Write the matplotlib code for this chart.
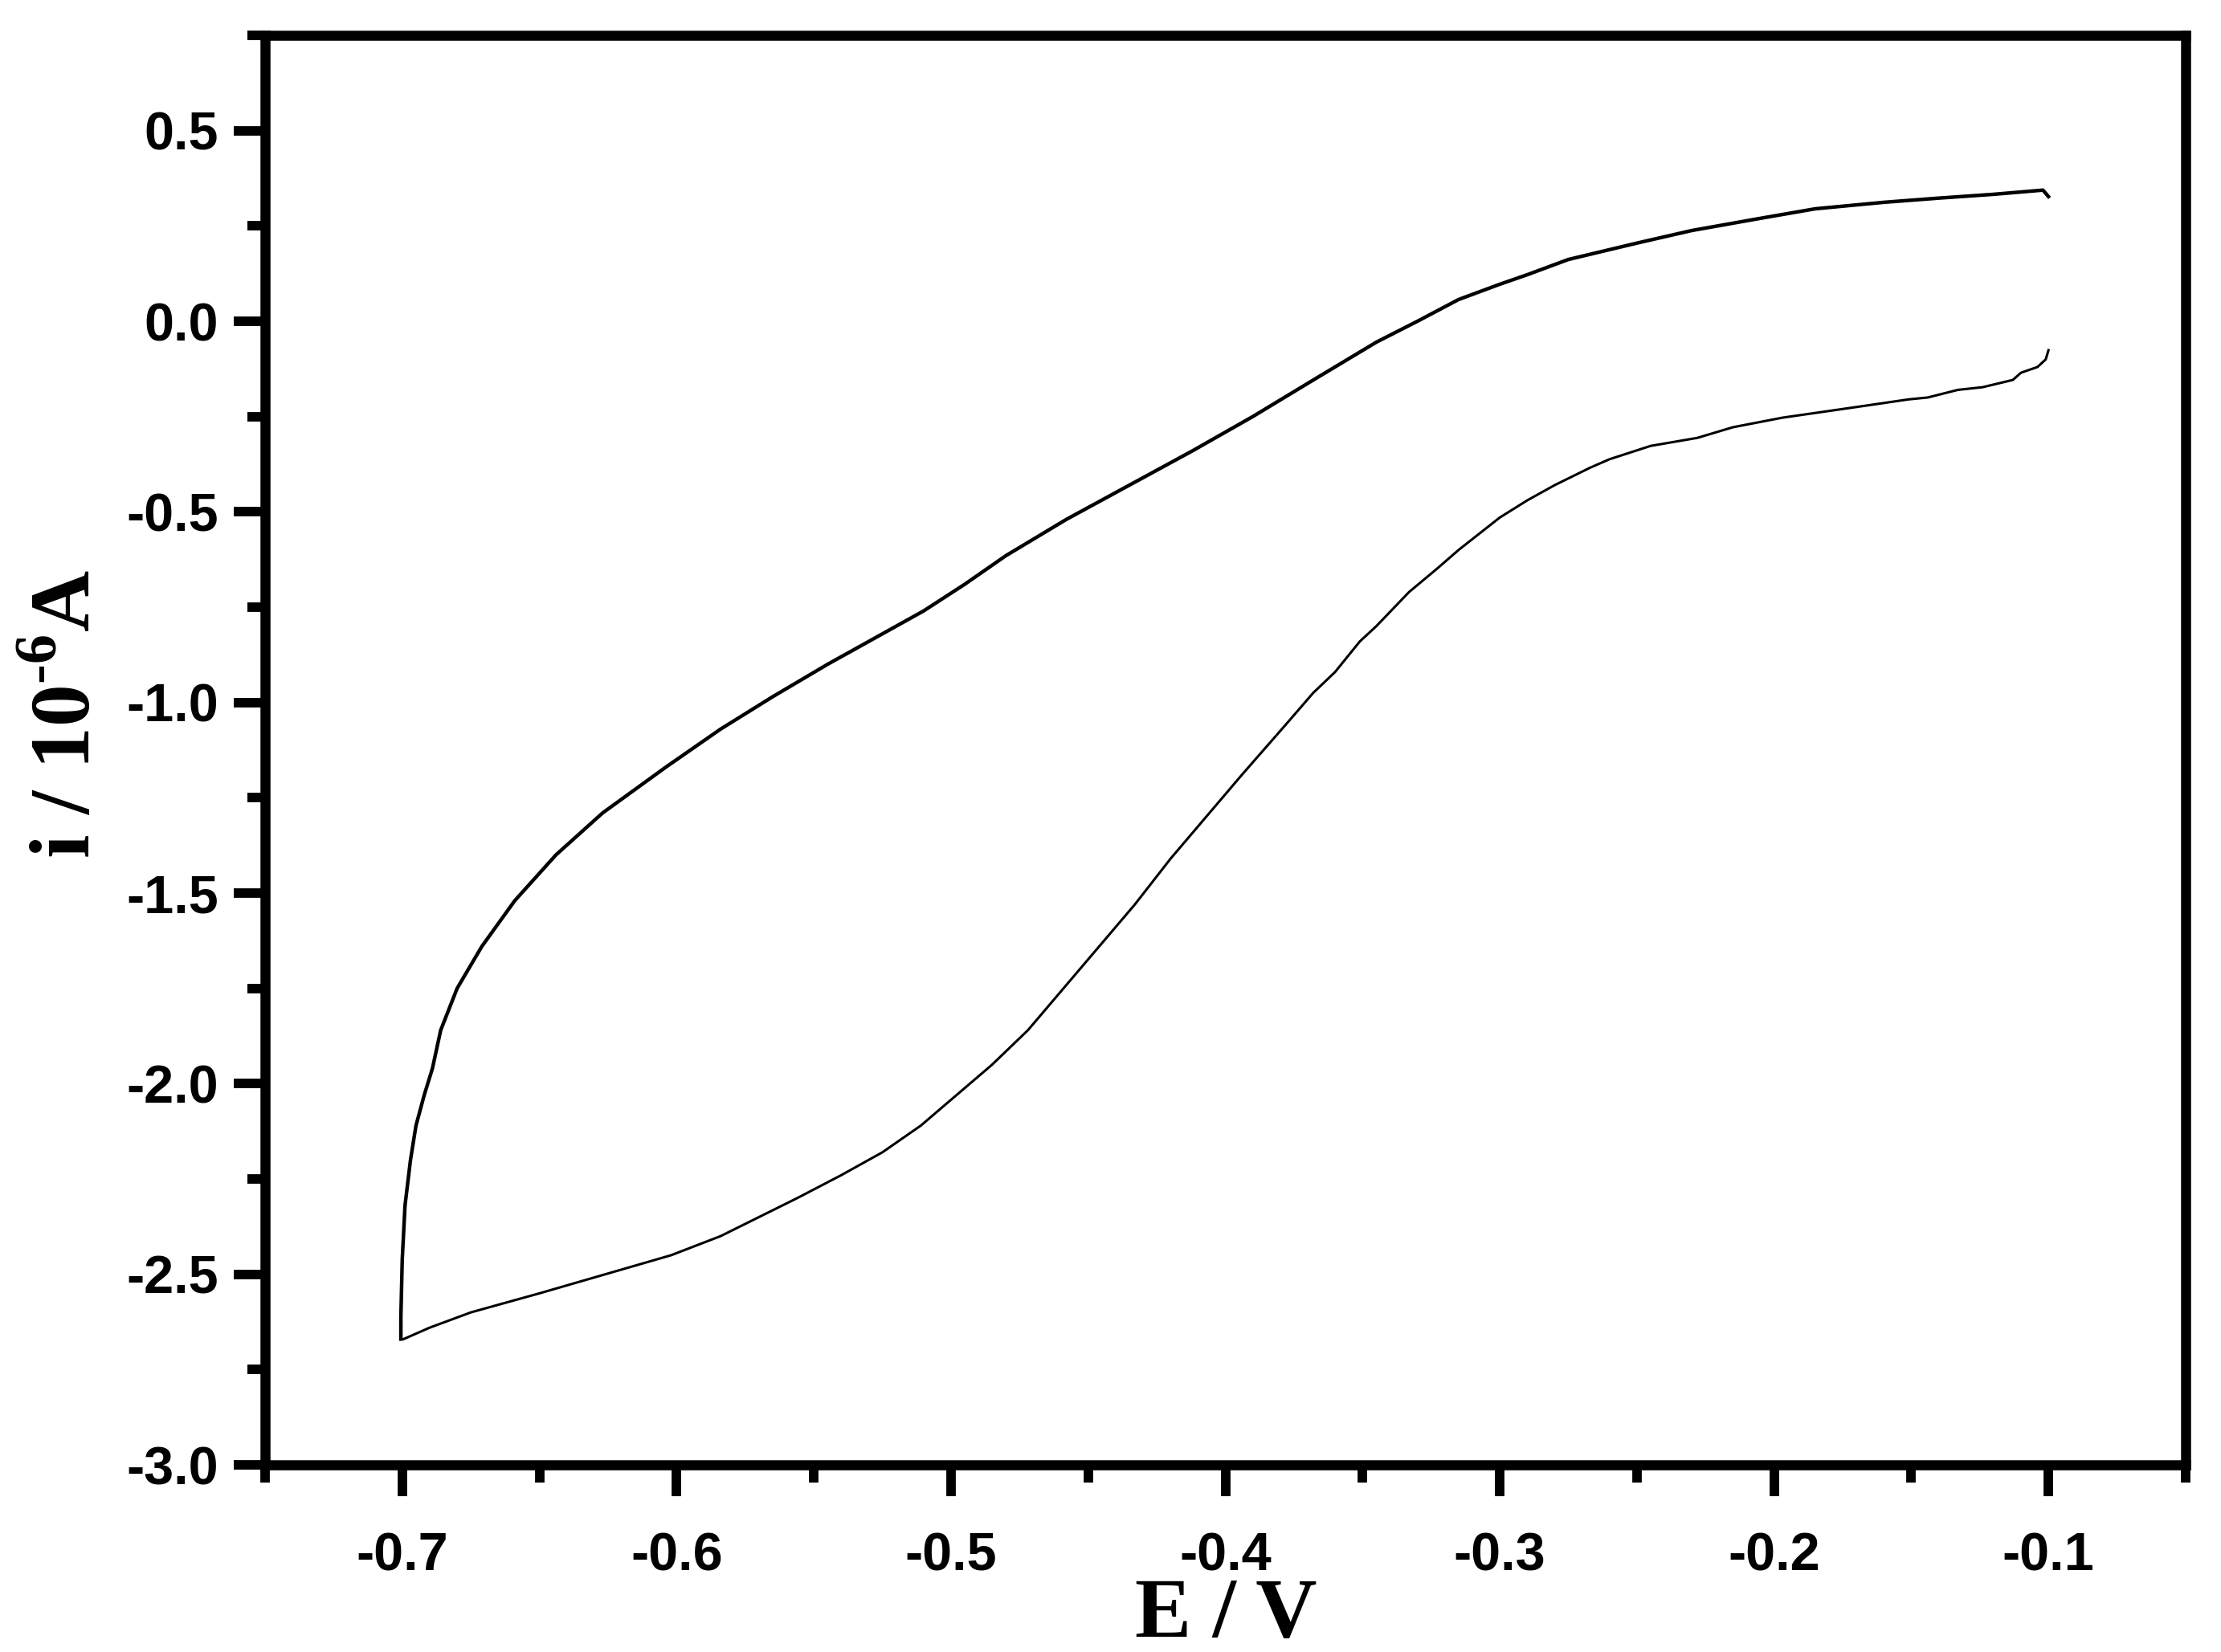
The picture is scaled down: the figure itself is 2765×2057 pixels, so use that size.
import matplotlib
matplotlib.use("Agg")
import matplotlib.pyplot as plt
from matplotlib.ticker import MultipleLocator, FormatStrFormatter

plt.rcParams['axes.unicode_minus'] = False
plt.rcParams['mathtext.fontset'] = 'custom'
plt.rcParams['mathtext.rm'] = 'Liberation Serif:bold'
plt.rcParams['mathtext.bf'] = 'Liberation Serif:bold'

# reverse scan, -0.1 V back down to -0.7 V
E_rev = [-0.100, -0.101, -0.104, -0.110, -0.113, -0.124, -0.133, -0.144, -0.151,
         -0.170, -0.197, -0.215, -0.228, -0.245, -0.260, -0.267, -0.280, -0.290,
         -0.300, -0.306, -0.315, -0.323, -0.333, -0.345, -0.351, -0.360, -0.368,
         -0.377, -0.394, -0.407, -0.420, -0.433, -0.446, -0.459, -0.472, -0.485,
         -0.498, -0.511, -0.525, -0.540, -0.556, -0.570, -0.584, -0.602, -0.626,
         -0.650, -0.675, -0.690, -0.6995]
i_rev = [-0.076, -0.100, -0.120, -0.135, -0.154, -0.173, -0.180, -0.200, -0.205,
         -0.225, -0.253, -0.278, -0.306, -0.327, -0.362, -0.384, -0.430, -0.470,
         -0.515, -0.549, -0.600, -0.650, -0.710, -0.800, -0.840, -0.920, -0.975,
         -1.050, -1.190, -1.300, -1.410, -1.530, -1.640, -1.750, -1.860, -1.950,
         -2.030, -2.110, -2.180, -2.240, -2.300, -2.350, -2.400, -2.450, -2.500,
         -2.550, -2.600, -2.640, -2.670]

# forward scan, -0.7 V up to -0.1 V
E_fwd = [-0.7005, -0.7005, -0.7000, -0.699, -0.697, -0.695, -0.692, -0.689, -0.686,
         -0.680, -0.671, -0.659, -0.644, -0.627, -0.604, -0.584, -0.565, -0.545,
         -0.525, -0.510, -0.495, -0.480, -0.458, -0.435, -0.412, -0.390, -0.367,
         -0.345, -0.330, -0.315, -0.300, -0.290, -0.275, -0.250, -0.230, -0.205,
         -0.185, -0.160, -0.140, -0.120, -0.102, -0.100]
i_fwd = [-2.670, -2.610, -2.460, -2.320, -2.200, -2.110, -2.030, -1.960, -1.860,
         -1.750, -1.640, -1.520, -1.400, -1.290, -1.170, -1.070, -0.985, -0.900,
         -0.820, -0.760, -0.690, -0.615, -0.520, -0.430, -0.340, -0.250, -0.150,
         -0.055, 0.000, 0.057, 0.097, 0.122, 0.162, 0.205, 0.238, 0.270,
         0.295, 0.312, 0.323, 0.333, 0.344, 0.327]

fig = plt.figure(figsize=(27.65, 20.57), dpi=100)
ax = fig.add_axes([0.11935, 0.11327, 0.86474, 0.86534])

ax.plot(E_rev, i_rev, color='black', lw=2.2)
ax.plot(E_fwd, i_fwd, color='black', lw=3.2)

ax.set_xlim(-0.75, -0.05)
ax.set_ylim(-3.0, 0.75)

ax.xaxis.set_major_locator(MultipleLocator(0.1))
ax.xaxis.set_minor_locator(MultipleLocator(0.05))
ax.yaxis.set_major_locator(MultipleLocator(0.5))
ax.yaxis.set_minor_locator(MultipleLocator(0.25))
ax.xaxis.set_major_formatter(FormatStrFormatter('%.1f'))
ax.yaxis.set_major_formatter(FormatStrFormatter('%.1f'))

for s in ax.spines.values():
    s.set_linewidth(9)
ax.tick_params(which='major', direction='out', length=28, width=8.5)
ax.tick_params(which='minor', direction='out', length=16, width=8.5)
ax.tick_params(axis='x', which='major', pad=32)
ax.tick_params(axis='y', which='major', pad=14)
ax.tick_params(top=False, right=False, which='both')

for lab in ax.get_xticklabels() + ax.get_yticklabels():
    lab.set_fontfamily('Liberation Sans')
    lab.set_fontweight('bold')
    lab.set_fontsize(48)

fig.text(1526 / 2765, 1 - 2038 / 2057, 'E / V', ha='center', va='baseline',
         fontfamily='Liberation Serif', fontweight='bold', fontsize=76)
fig.text(112 / 2765, 1 - 889 / 2057, r'i / 10$^{\text{-6}}$A', ha='center', va='baseline',
         rotation=90, rotation_mode='anchor',
         fontfamily='Liberation Serif', fontweight='bold', fontsize=76)

fig.savefig('out.png', dpi=100)
